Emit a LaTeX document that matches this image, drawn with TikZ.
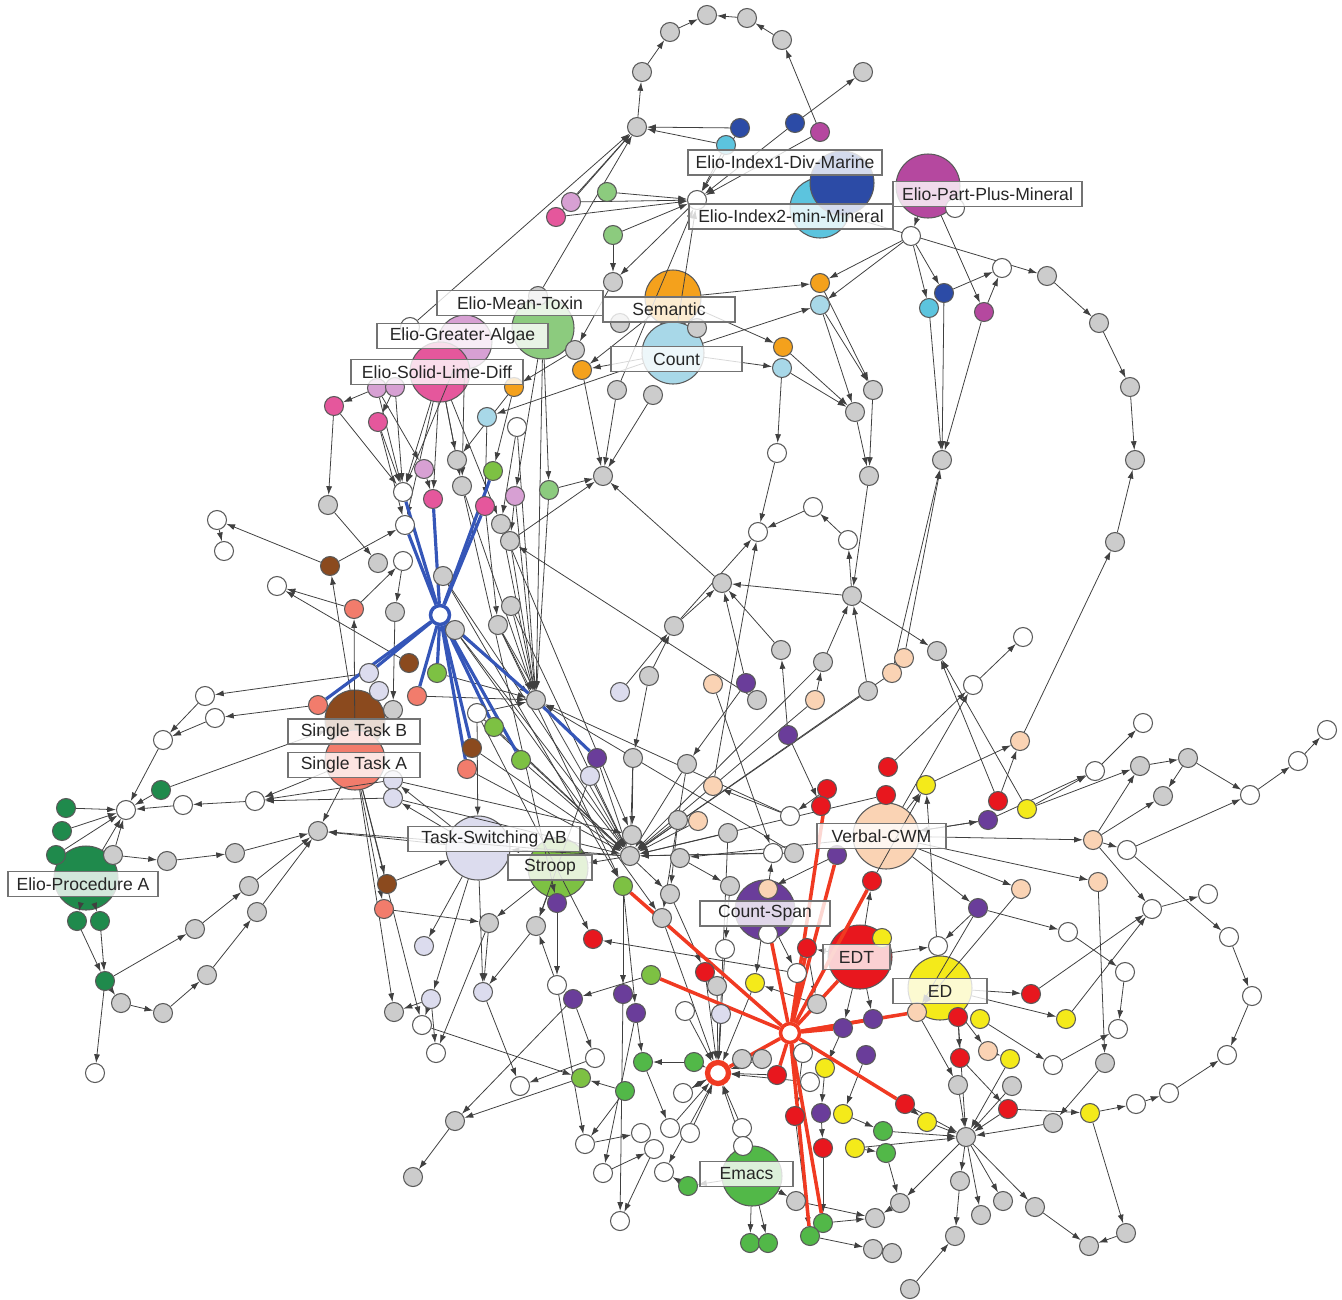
\documentclass[tikz,border=0pt]{standalone}
\usepackage{fontspec}
\setmainfont{Liberation Sans}
\usetikzlibrary{arrows.meta}
\pgfdeclarelayer{big}\pgfdeclarelayer{edges}\pgfdeclarelayer{lab}
\pgfsetlayers{big,edges,main,lab}
\definecolor{cgy}{HTML}{CCCCCC}\definecolor{clv}{HTML}{DCDCEE}\definecolor{cpc}{HTML}{FAD3B4}
\definecolor{cpu}{HTML}{6A3D9A}\definecolor{crd}{HTML}{E8171E}\definecolor{cye}{HTML}{F4EA1A}
\definecolor{clg}{HTML}{7DC143}\definecolor{cgn}{HTML}{52B848}\definecolor{cdg}{HTML}{1F8A4C}
\definecolor{cbr}{HTML}{8B4A1E}\definecolor{csa}{HTML}{F27C6C}\definecolor{cmg}{HTML}{E5579C}
\definecolor{cor}{HTML}{D7A0D3}\definecolor{cdb}{HTML}{2C4BA6}\definecolor{ccy}{HTML}{5CC4DE}
\definecolor{clb}{HTML}{A8D8E8}\definecolor{cog}{HTML}{F4A11C}\definecolor{cmv}{HTML}{B5489F}
\definecolor{clgr}{HTML}{8CCB7E}\definecolor{cblue}{HTML}{3556B8}\definecolor{cred}{HTML}{F03A22}
\begin{document}
\begin{tikzpicture}[x=0.02cm,y=-0.02cm,
 sn/.style={circle,draw=black!65,line width=0.6pt,minimum size=0.38cm,inner sep=0pt},
 bn/.style={circle,draw=black!65,line width=0.6pt,inner sep=0pt},
 ed/.style={draw=black!75,line width=0.45pt,-{Latex[length=5pt,width=3.4pt]}},
 bl/.style={draw=cblue,line width=1.8pt},
 rl/.style={draw=cred,line width=2pt},
 lab/.style={draw=black!55,line width=0.8pt,fill=white,fill opacity=0.8,text opacity=1,text=black!85,minimum height=0.5cm,inner sep=0pt,font=\fontsize{10pt}{12pt}\selectfont}]
\useasboundingbox (0,0) rectangle (1342,1299);
% big nodes
\begin{pgfonlayer}{big}
\foreach \n/\x/\y/\c/\d in {BIdx2/820/208/ccy/1.2, BIdx1/842/183/cdb/1.28, BPart/928/186/cmv/1.28,
 BSem/673/298/cog/1.12, BCount/673/353/clb/1.24, BMean/543/328/clgr/1.24, BAlgae/465/342/cor/1.08,
 BLime/440/372/cmg/1.2, BSTB/355/720/cbr/1.2, BSTA/355/760/csa/1.2, BProc/86/878/cdg/1.28,
 BTS/478/848/clv/1.28, BStroop/558/868/clg/1.2, BVerbal/886/836/cpc/1.32, BCS/765/910/cpu/1.2,
 BEDT/860/957/crd/1.28, BED/940/988/cye/1.28, BEmacs/752/1176/cgn/1.2}
 {\node[bn,fill=\c,minimum size=\d cm] (\n) at (\x,\y) {};}
\end{pgfonlayer}
% small nodes
\foreach \n/\x/\y/\c in {t1/707/15/cgy, t2/747/18/cgy, t3/670/32/cgy, t4/782/40/cgy, t5/642/72/cgy, t6/863/72/cgy, t7/637/127/cgy, t8/740/128/cdb, t9/795/123/cdb, t10/820/132/cmv, t11/726/145/ccy, t12/697/200/white, t13/556/217/cmg, t14/571/202/cor, t15/607/192/clgr, t16/613/235/clgr, t17/613/282/cgy, t18/955/208/white, t19/911/236/white, t20/1002/268/white, t21/1047/276/cgy, t22/1099/323/cgy, t23/1130/387/cgy, t24/944/293/cdb, t25/929/308/ccy, t26/984/312/cmv, t27/820/283/cog, t28/820/305/clb, t29/783/347/cog, t30/782/368/clb, t31/873/390/cgy, t32/855/412/cgy, t33/697/328/cgy, t34/620/323/cgy, t35/575/350/cgy, t36/582/370/cog, t37/514/387/cog, t38/487/417/clb, t39/617/390/cgy, t40/653/395/cgy, t41/517/427/white, t42/538/296/cgy, t43/410/327/white, t44/377/388/cor, t45/395/387/cor, t46/334/406/cmg, t47/378/422/cmg, t48/942/460/cgy, t49/1135/460/cgy, t50/777/453/white, t51/603/476/cgy, m0/869/476/cgy}
 {\node[sn,fill=\c] (\n) at (\x,\y) {};}
\foreach \n/\x/\y/\c in {l1/424/469/cor, l2/403/492/white, l3/433/499/cmg, l4/405/525/white, l5/328/505/cgy, l6/217/520/white, l7/224/551/white, l8/330/566/cbr, l9/378/563/cgy, l10/403/561/white, l11/443/576/cgy, l12/277/586/white, l13/354/609/csa, l14/395/612/cgy, l15/409/663/cbr, l16/437/673/clg, l17/369/673/clv, l18/379/691/clv, l19/318/705/csa, l20/417/696/csa, l21/393/710/cgy, l22/205/696/white, l23/215/718/white, l24/163/740/white, l25/161/790/cdg, l26/126/810/white, l27/183/805/white, l28/255/801/white, l29/393/780/clv, l30/393/798/clv, l31/66/808/cdg, l32/62/831/cdg, l33/56/855/cdg, l34/113/855/cgy, l35/167/861/cgy, l36/235/853/cgy, l37/318/831/cgy, l38/77/921/cdg, l39/100/921/cdg, l40/105/981/cdg, l41/121/1003/cgy, l42/163/1013/cgy, l43/207/975/cgy, l44/257/912/cgy, l45/195/929/cgy, l46/249/886/cgy, l47/95/1073/white, l48/387/884/cbr, l49/384/909/csa, l50/424/946/clv, l51/431/999/clv, l52/394/1012/cgy, l53/422/1025/white, l54/436/1053/white, l55/413/1177/cgy, l56/455/1121/cgy}
 {\node[sn,fill=\c] (\n) at (\x,\y) {};}
\foreach \n/\x/\y/\c in {m1/457/460/cgy, m2/493/471/clg, m3/462/486/cgy, m4/515/496/cor, m5/549/490/clgr, m6/485/506/cmg, m7/501/524/cgy, m8/510/541/cgy, m9/511/606/cgy, m10/498/625/cgy, m11/455/630/cgy, m12/536/700/cgy, m13/477/713/white, m14/494/727/clg, m15/472/748/cbr, m16/467/769/csa, m17/521/760/clg, m18/597/758/cpu, m19/590/776/clv, m20/813/507/white, m21/758/532/white, m22/848/540/white, m23/722/583/cgy, m24/852/596/cgy, m25/674/626/cgy, m26/781/650/cgy, m27/823/662/cgy, m28/649/676/cgy, m29/620/692/clv, m30/713/684/cpc, m31/746/683/cpu, m32/757/700/cgy, m33/815/700/cpc, m34/868/691/cgy, m35/788/735/cpu, m36/633/758/cgy, m37/687/764/cgy, m38/713/786/cpc, m39/678/820/cgy, m40/698/821/cpc, m41/728/833/cgy, m42/790/816/white, m43/827/789/crd, m44/821/806/crd, m45/632/835/cgy, m46/773/853/white, m47/794/853/cgy, m48/837/855/cpu, m49/630/856/cgy, m50/680/858/cgy}
 {\node[sn,fill=\c] (\n) at (\x,\y) {};}
\foreach \n/\x/\y/\c in {r1/1115/542/cgy, r2/1023/637/white, r3/937/651/cgy, r4/904/658/cpc, r5/892/673/cpc, r6/973/685/white, r7/1020/741/cpc, r8/1143/723/white, r9/1327/730/white, r10/926/785/cye, r11/888/767/crd, r12/886/795/crd, r13/998/801/crd, r14/988/820/cpu, r15/1027/809/cye, r16/1095/771/white, r17/1140/766/cgy, r18/1188/758/cgy, r19/1163/796/cgy, r20/1298/761/white, r21/1250/795/white, r22/1093/840/cpc, r23/1127/850/white, r24/1021/889/cpc, r25/978/908/cpu, r26/1098/882/cpc, r27/1152/909/white, r28/1208/894/white, r29/1068/932/white, r30/1229/937/white, r31/938/946/white, r32/1125/972/white, r33/1252/996/white, r34/1031/994/crd, r35/1066/1019/cye, r36/917/1012/cpc, r37/958/1017/crd, r38/980/1019/cye, r39/1118/1029/white, r40/1227/1055/white, r41/960/1058/crd, r42/988/1051/cpc, r43/1010/1059/cye, r44/1105/1063/cgy, r45/1053/1065/white, r46/958/1085/cgy, r47/1012/1086/cgy, r48/1169/1093/white, r49/1136/1104/white, r50/1008/1109/crd, r51/1090/1113/cye, r52/1053/1123/cgy, r53/905/1104/crd, r54/927/1122/cye, r55/966/1137/cgy, r56/960/1181/cgy, r57/900/1203/cgy, r58/1003/1201/cgy, r59/981/1215/cgy, r60/1035/1207/cgy, r61/1126/1233/cgy, r62/1089/1246/cgy, r63/955/1236/cgy, r64/892/1253/cgy, r65/910/1289/cgy, r66/883/1131/cgn, r67/886/1153/cgn}
 {\node[sn,fill=\c] (\n) at (\x,\y) {};}
\foreach \n/\x/\y/\c in {b1/623/886/clg, b2/670/894/cgy, b3/730/886/cgy, b4/768/889/cpc, b5/768/934/white, b6/557/903/cpu, b7/489/923/cgy, b8/536/926/cgy, b9/593/939/crd, b10/662/918/cgy, b11/807/948/crd, b12/872/881/crd, b13/797/973/white, b14/725/949/white, b15/882/938/cye, b16/651/975/clg, b17/705/972/crd, b18/717/986/cgy, b19/755/983/cye, b20/817/1004/cgy, b21/623/994/cpu, b22/636/1013/cpu, b23/573/999/cpu, b24/557/985/white, b25/483/992/clv, b26/685/1011/white, b27/721/1014/clv, b28/803/1053/white, b29/843/1028/cpu, b30/873/1019/cpu, b31/866/1055/cpu, b32/825/1068/cye, b33/777/1075/crd, b34/742/1059/cgy, b35/762/1059/cgy, b36/810/1082/white, b37/694/1062/cgn, b38/643/1062/cgn, b39/625/1091/cgn, b40/683/1093/white, b41/595/1058/white, b42/581/1078/clg, b43/520/1086/white, b44/795/1116/crd, b45/821/1113/cpu, b46/843/1114/cye, b47/855/1148/cye, b48/823/1148/crd, b49/742/1128/white, b50/670/1128/white, b51/690/1133/white, b52/641/1133/white, b53/585/1144/white, b54/654/1149/white, b55/743/1146/white, b56/603/1173/white, b57/664/1172/white, b58/688/1186/cgn, b59/796/1201/cgy, b60/823/1223/cgn, b61/810/1236/cgn, b62/750/1243/cgn, b63/768/1243/cgn, b64/620/1221/white, b65/875/1218/cgy, b66/873/1249/cgy}
 {\node[sn,fill=\c] (\n) at (\x,\y) {};}
% hubs
\node[sn,fill=white,draw=cblue,line width=2pt] (HB) at (440,615) {};
\node[sn,fill=white,draw=cred,line width=2pt] (HR) at (790,1033) {};
\node[sn,fill=white,draw=cred,line width=3pt,minimum size=0.42cm] (HR2) at (718,1073) {};
% edges
\begin{pgfonlayer}{edges}
\foreach \a/\b in {t7/t5, t5/t3, t3/t1, t2/t1, t4/t2, t10/t4, t9/t6, t8/t7, t11/t7, t13/t7, t14/t7, t43/t7, t42/t7,
 t14/t12, t13/t12, t15/t12, t16/t12, t8/t12, t9/t12, t10/t12, t11/t12, BCount/t12, t12/t17, t39/t12,
 BPart/t19, t19/t24, t19/t25, BPart/t26, t24/t20, t26/t20, BIdx2/t21, t21/t22, t22/t23, t23/t49, r1/t49, r7/r1,
 t24/t48, t25/t48, t26/t48, r4/t48, r5/t48,
 BSem/t27, BCount/t28, t19/t27, t19/t28, t27/t31, t28/t31, t28/t32, BSem/t29, BCount/t30, t29/t32, t30/t32, t31/m0, t32/m0, t30/t50,
 t16/t17, t17/t35, t35/t37, BCount/t36, BSem/t36, BCount/t38, t39/t51, t40/t51, t36/t51,
 t46/l5, t44/t46, t45/t47, t47/l2, t46/l2, t44/l2, t45/l2, BLime/l2, BLime/l4, t47/l4, BAlgae/l2, t44/l1, l1/l3, BLime/l3,
 BLime/m1, BLime/m3, BAlgae/m3, BMean/m4, BMean/m5, t37/m2, t38/m6, BLime/m7, t41/m7, t41/m12, t37/m1, BMean/m12,
 l5/l9, l8/l6, l6/l7, BSTB/l8, BSTA/l13, l13/l12, l13/l10, l8/l4, l10/l14, l14/l21, l15/l12, l17/l22, l19/l23,
 l22/l24, l23/l24, l24/l26, l25/l26, l27/l26, l28/l27, l30/l28, l31/l26, l32/l26, l33/l26, BProc/l26, l34/l26, l25/BSTB,
 l34/l35, l35/l36, l36/l37, BSTA/l37, BTS/l37, BProc/l38, BProc/l39, l38/l40, l39/l40, l40/l41, l41/l42, l42/l43, l43/l44,
 l40/l45, l45/l46, l40/l47, BSTA/l48, BSTA/l49, BSTA/l52, BSTA/l53, l51/l52, l51/l53, l51/l54, l56/l55, BTS/l50, BTS/l29,
 BTS/l30, l44/l37, l46/l37, l29/l28, BSTA/l28,
 m3/m12, m7/m12, m8/m12, m9/m12, m10/m12, m11/m12, m4/m12, m5/m12, m13/m12, l20/m12, l16/m12, m6/m10, m4/m8, m5/t51,
 m8/t51, m23/t51, m32/m8, m25/m23, m28/m25, m29/m25, m31/m23, m26/m23, m35/m26, m24/m22, m22/m20, m20/m21, t50/m21,
 m0/m24, m24/m23, m27/m24, m34/m24, m33/m27, m42/m38, m31/m37, m36/m45, m25/m21, m38/m21, m28/m36, m30/m46,
 m45/m49, m39/m49, m40/m49, m41/m49, m13/m49, m17/m49, m18/m49, m19/m49, m16/m49, m14/m49, m36/m49, m37/m49, m46/m49,
 m47/m49, m34/m49, m27/m49, m33/m49, r5/m49, l11/m49, m11/m49, m15/m49, m9/m49, m10/m49, m42/m12, m47/m12,
 r6/r2, m24/r3, r13/r3, r15/r3, r10/r7, BED/r10, BVerbal/r6, r13/r7, r15/r16, r15/r17, r16/r8, r17/r18, r18/r19, r22/r19,
 r22/r17, r22/r23, BVerbal/r22, r21/r20, r20/r9, r23/r21, r14/r16, BVerbal/r14, r25/r29, BVerbal/r25, BVerbal/r26,
 r26/r44, r22/r27, r27/r28, r23/r30, r30/r33, r33/r40, r48/r40, r49/r48, r29/r32, r32/r39, r45/r39, BED/r34, r34/r27,
 BED/r35, r35/r27, BED/r37, r38/r45, r42/r43, r37/r41, r36/r46, r41/r50, BED/r42, r44/r52, r50/r51, r51/r49, r51/r61,
 r60/r62, r61/r62, r53/r54, r46/r55, r47/r55, r50/r55, r52/r55, r54/r55, r53/r55, r43/r55, r37/r55, b47/r55, r55/r56,
 r55/r58, r55/r59, r55/r60, r55/r57, r56/r63, r65/r63, BVerbal/r24, r25/r31, r4/r5, r11/r6, r12/m49, r24/r36, r25/r36,
 b17/HR2, b18/HR2, b26/HR2, b27/HR2, b34/HR2, b35/HR2, b37/HR2, b40/HR2, b49/HR2, b50/HR2, b55/HR2, b33/HR2, b10/HR2,
 b14/HR2, b36/HR2, b51/HR2, m41/HR2, b19/HR2,
 b6/b24, b7/b25, b24/b8, BStroop/b6, BStroop/b7, BStroop/b8, b13/b9, b16/b23, b23/b41, b1/b21, b1/b22, b21/b64,
 b22/b56, b22/b38, b38/b50, b39/b53, l53/b42, b25/b43, BEmacs/b58, BEmacs/b62, BEmacs/b63, BEmacs/b59, b60/b65, b61/b66,
 b59/b65, b58/b57, b24/b53, b56/b54, b53/b52, b2/b17, b3/b14, b20/b19, b29/b32, b31/b46, b32/b45, b45/b48, b23/l56,
 BEDT/b12, BCS/b13, BCS/b19, BEDT/r31, BEDT/b30, BEDT/b29, BEDT/b11, m3/b6, l11/b1, m11/b10, m13/b9, m7/m45, m10/b1,
 BTS/b25, BTS/l51, m49/BTS, m49/BStroop, b44/b61, b48/b60, r57/b65, r64/b66, r66/r55, r67/r57, b46/r66, b47/r67,
 BVerbal/r12, BVerbal/r10, m35/m44, m43/m42, BCS/m46, m48/b4, b12/r10, r14/BVerbal, b11/b20, b28/b44, HR2/b57,
 HR2/b40, b37/b38, b39/b42, b41/b43, m49/b2, m50/b3, b8/b25, b7/l54, l49/b7, l48/BTS, b42/l56, b54/b64,
 m49/l37, l30/m49, l29/m45, m13/BTS, m19/b8, m37/b10, m39/b2, BVerbal/m50, r18/r21}
 {\draw[ed] (\a) -- (\b);}
\foreach \b in {l4, l2, m6, m2, l3, l19, l17, l20, l16, m15, m16, m14, m17, m12}
 {\draw[bl] (HB) -- (\b);}
\draw[bl] (m12) -- (m18);
\foreach \b in {b1, b16, HR2, BCS, m48, BEDT, b12, b29, b30, r36, r53, b60, b61, b33, b11, m43}
 {\draw[rl] (HR) -- (\b);}
\end{pgfonlayer}
% labels
\begin{pgfonlayer}{lab}
\foreach \x/\y/\w/\t in {785/162.5/3.88/Elio-Index1-Div-Marine, 791/216.5/4.08/Elio-Index2-min-Mineral,
 987.5/194/3.78/Elio-Part-Plus-Mineral, 520/303/3.32/Elio-Mean-Toxin, 669/309.5/2.64/Semantic, 676.5/359/2.62/Count,
 462.5/336/3.42/Elio-Greater-Algae, 437/372/3.44/Elio-Solid-Lime-Diff, 354/731.5/2.64/Single Task B,
 354/765/2.64/Single Task A, 83/884/3.0/Elio-Procedure A, 494/839/3.44/Task-Switching AB, 550/867.5/1.68/Stroop,
 881.5/836/2.58/Verbal-CWM, 765/913.5/2.6/Count-Span, 856.5/957/1.34/EDT, 940/991/1.88/ED, 746.5/1174/1.86/Emacs}
 {\node[lab,minimum width=\w cm] at (\x,\y) {\t};}
\end{pgfonlayer}
\end{tikzpicture}
\end{document}
